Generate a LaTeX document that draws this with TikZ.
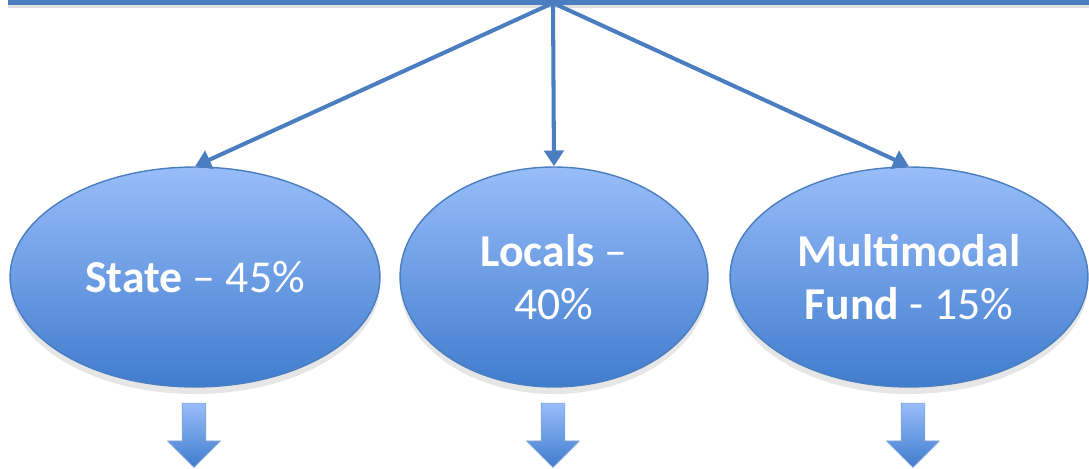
\documentclass[tikz,border=0pt]{standalone}
\usepackage{fontspec}
\setmainfont{Carlito}
\usetikzlibrary{shapes.geometric,shapes.arrows,arrows.meta,shadows,positioning}
\definecolor{linkblue}{RGB}{74,126,192}
\definecolor{balltop}{RGB}{152,189,249}
\definecolor{ballbot}{RGB}{64,124,206}

\begin{document}
\begin{tikzpicture}[x=0.02cm,y=-0.02cm]
            \tikzstyle{share}=[ellipse,draw=linkblue,line width=0.8pt,top color=balltop,bottom color=ballbot,minimum height=4.4cm,inner sep=0pt,text=white,align=center,font=\fontsize{26}{30}\selectfont,drop shadow={opacity=0.2,shadow xshift=0pt,shadow yshift=-4pt}]
            \tikzstyle{link}=[draw=linkblue,line width=2.3pt,-{Triangle[length=9pt,width=11pt]}]
            \tikzstyle{down}=[single arrow,shape border rotate=270,minimum height=1.28cm,minimum width=1.04cm,single arrow head extend=0.29cm,inner sep=0.23cm,top color=balltop,bottom color=ballbot,draw=linkblue!70,line width=0.4pt,anchor=tail]
                    \useasboundingbox (0,0) rectangle (1089,469);
                    \coordinate (top) at (553,3);
                    \draw[black!12,line width=2pt] (8,6) -- (1089,6);
                    \draw[linkblue,line width=3pt] (8,2.5) -- (1089,2.5);
                    \node[share,minimum width=7.4cm] (state) at (195,277){\textbf{State} -- 45\%};
                    \node[share,minimum width=6.16cm] (locals) at (554,277){\textbf{Locals} --\\40\%};
                    \node[share,minimum width=7.16cm] (fund) at (909,277){\textbf{Multimodal}\\\textbf{Fund} - 15\%};
                    \node[down] (d-state) at (194,403){};
                    \node[down] (d-locals) at (553,403){};
                    \node[down] (d-fund) at (913,403){};
        
                \foreach \to in {state, locals, fund}
                    \draw[link] (top) -- (\to.north);
        \end{tikzpicture}
\end{document}
